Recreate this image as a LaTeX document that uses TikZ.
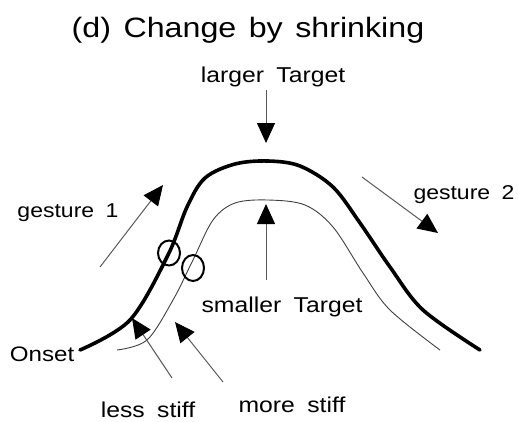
\documentclass[tikz,border=0pt]{standalone}
\usepackage{fontspec}
\setmainfont{Liberation Sans}[FakeStretch=1.15, WordSpace=1.8]
\newfontfamily\titlefont{Liberation Sans}[FakeStretch=1.15, WordSpace=1.4]
\usepackage{tikz}
\usetikzlibrary{positioning,arrows.meta}

\begin{document}
\begin{tikzpicture}[
    x=1pt, y=-1pt,
    lbl/.style={anchor=base, inner sep=0pt, font=\fontsize{21.5}{25}\selectfont},
    gestLbl/.style={lbl, font=\fontsize{20}{24}\selectfont},
    thickCurve/.style={line width=3.6pt, line cap=round},
    thinCurve/.style={line width=0.9pt, draw=black!75},
    pointArrow/.style={-{Triangle[length=20pt, width=18pt, color=black]}, line width=1pt, draw=black!65},
    markRing/.style={line width=2pt}
]
    \useasboundingbox (0,0) rectangle (518,421);

    \node[anchor=base, inner sep=0pt, font=\titlefont\fontsize{28}{32}\selectfont] (title) at (248,37) {(d) Change by shrinking};

    % labels
    \node[lbl] (larger) at (273,82) {larger Target};
    \node[lbl] (smaller) at (282,312) {smaller Target};
    \node[gestLbl] (gestA) at (68,217) {gesture 1};
    \node[gestLbl] (gestB) at (464,199) {gesture 2};
    \node[lbl, font=\fontsize{21}{25}\selectfont] (onset) at (42,361) {Onset};
    \node[lbl] (less) at (148,417) {less stiff};
    \node[lbl] (more) at (292,412) {more stiff};

    % the two trajectories
    \draw[thickCurve] plot[smooth, tension=0.55] coordinates {
        (80,350) (130,320) (168,255) (187,207) (205,178) (235,164) (268,161)
        (300,166) (333,187) (360,223) (390,267) (423,310) (480,350)};
    \draw[thinCurve] plot[smooth, tension=0.55] coordinates {
        (117,350) (147,340) (173,300) (193,260) (213,220) (235,203) (268,200)
        (305,205) (333,227) (363,273) (390,310) (440,350)};

    % stiffness marks
    \draw[markRing] (169,253) ellipse [x radius=11, y radius=12.5];
    \draw[markRing] (193,268) ellipse [x radius=11, y radius=13];

    % arrow ends
    \coordinate (largerTop) at (266,90);
    \coordinate (largerTip) at (266,143);
    \coordinate (smallerBot) at (266,280);
    \coordinate (smallerTip) at (266,204);
    \coordinate (gestAFoot) at (100,267);
    \coordinate (gestATip) at (163,185);
    \coordinate (gestBFoot) at (362,177);
    \coordinate (gestBTip) at (438,233);
    \coordinate (lessFoot) at (172,378);
    \coordinate (lessTip) at (132,318);
    \coordinate (moreFoot) at (223,382);
    \coordinate (moreTip) at (175,322);

    \draw[pointArrow] (largerTop) -- (largerTip);
    \draw[pointArrow] (smallerBot) -- (smallerTip);
    \draw[pointArrow] (gestAFoot) -- (gestATip);
    \draw[pointArrow] (gestBFoot) -- (gestBTip);
    \draw[pointArrow] (lessFoot) -- (lessTip);
    \draw[pointArrow] (moreFoot) -- (moreTip);
\end{tikzpicture}
\end{document}
